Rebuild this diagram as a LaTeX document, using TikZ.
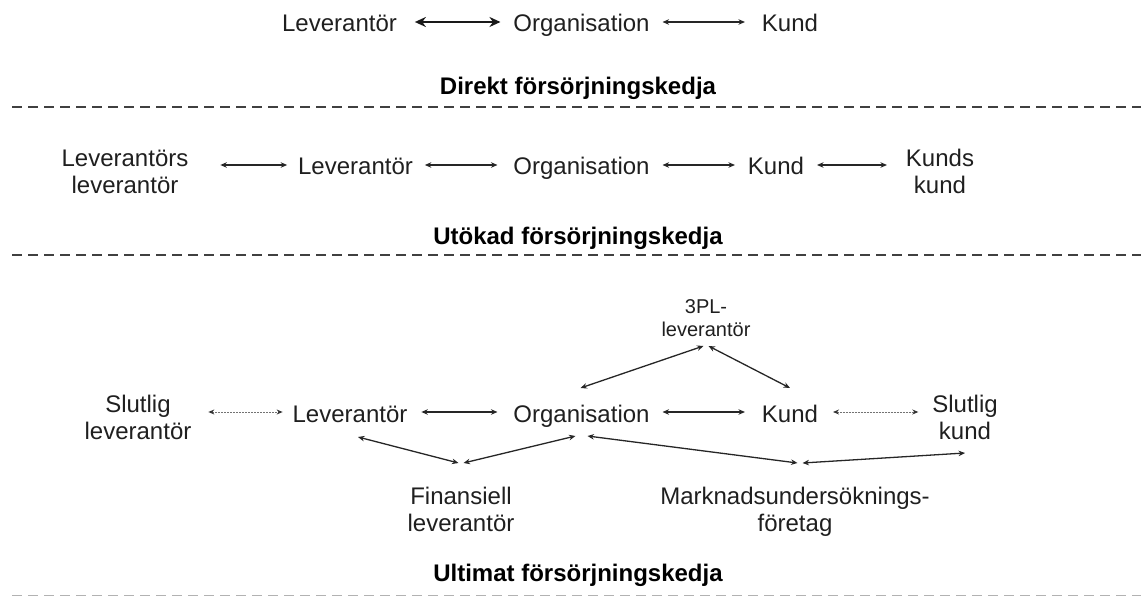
\documentclass[tikz,border=0pt]{standalone}
\usepackage{fontspec}
\setmainfont{Liberation Sans}
\usetikzlibrary{arrows.meta}

\begin{document}
\begin{tikzpicture}[x=1pt,y=-1pt,
  every node/.style={inner sep=0pt, outer sep=0pt},
  lbl/.style={font=\fontsize{24}{27}\selectfont, text=black!88, align=center},
  smalllbl/.style={font=\fontsize{20}{23}\selectfont, text=black!88, align=center},
  ttl/.style={font=\fontsize{24}{27}\selectfont\bfseries, text=black, anchor=base},
  link/.style={{Stealth[length=6.5pt,width=5.5pt]}-{Stealth[length=6.5pt,width=5.5pt]}, line width=1.3pt, draw=black!85},
  boldlink/.style={{Stealth[length=11pt,width=10pt]}-{Stealth[length=11pt,width=10pt]}, line width=2.6pt, draw=black!90},
  faintlink/.style={{Stealth[length=6pt,width=5pt,color=black!80]}-{Stealth[length=6pt,width=5pt,color=black!80]}, line width=1pt, draw=black!55, dash pattern=on 2pt off 1pt},
  divider/.style={line width=2.5pt, draw=black!75, dash pattern=on 10pt off 6pt}
]
\useasboundingbox (0,0) rectangle (1141,596);

% --- direct chain
\node[lbl, anchor=base] (lev1) at (339.5,32) {Leverantör};
\node[lbl, anchor=base] (org1) at (581.5,32) {Organisation};
\node[lbl, anchor=base] (kund1) at (790,32) {Kund};
\draw[boldlink] ([shift={(18,-10)}]lev1.base east) -- ([shift={(-13,-10)}]org1.base west);
\draw[link] ([shift={(13,-10)}]org1.base east) -- ([shift={(-17,-10)}]kund1.base west);
\node[ttl] (t1) at (578,95) {Direkt försörjningskedja};
\draw[divider] (12,107) -- (1141,107);

% --- extended chain
\node[lbl, anchor=north] (ll2) at (125,149.5) {Leverantörs\\leverantör};
\node[lbl, anchor=base] (lev2) at (355.5,175) {Leverantör};
\node[lbl, anchor=base] (org2) at (581.5,175) {Organisation};
\node[lbl, anchor=base] (kund2) at (776,175) {Kund};
\node[lbl, anchor=north] (kk2) at (940,149.5) {Kunds\\kund};
\draw[link] ([shift={(32,-10)}]ll2.east |- lev2.base) -- ([shift={(-11,-10)}]lev2.base west);
\draw[link] ([shift={(12,-10)}]lev2.base east) -- ([shift={(-16,-10)}]org2.base west);
\draw[link] ([shift={(13,-10)}]org2.base east) -- ([shift={(-13,-10)}]kund2.base west);
\draw[link] ([shift={(13,-10)}]kund2.base east) -- ([shift={(-19,-10)}]kk2.west |- kund2.base);
\node[ttl] (t2) at (578,245) {Utökad försörjningskedja};
\draw[divider] (12,255) -- (1141,255);

% --- ultimate chain
\node[lbl, anchor=north] (sl3) at (138,395) {Slutlig\\leverantör};
\node[lbl, anchor=base] (lev3) at (350,422) {Leverantör};
\node[lbl, anchor=base] (org3) at (581.5,422) {Organisation};
\node[lbl, anchor=base] (kund3) at (790,422) {Kund};
\node[lbl, anchor=north] (sk3) at (965,395) {Slutlig\\kund};
\node[smalllbl, anchor=north] (tpl) at (706,300) {3PL-\\leverantör};
\node[lbl, anchor=north] (fin) at (461,487.5) {Finansiell\\leverantör};
\node[lbl, anchor=north] (mkt) at (795,487.5) {Marknadsundersöknings-\\företag};
\coordinate (tplpt) at (706,346);
\coordinate (finpt) at (461,463);
\coordinate (mktpt) at (800,463);

\draw[faintlink] ([shift={(17,-10)}]sl3.east |- lev3.base) -- ([shift={(-10,-10)}]lev3.base west);
\draw[link] ([shift={(14,-10)}]lev3.base east) -- ([shift={(-16,-10)}]org3.base west);
\draw[link] ([shift={(13,-10)}]org3.base east) -- ([shift={(-17,-10)}]kund3.base west);
\draw[faintlink] ([shift={(15,-10)}]kund3.base east) -- ([shift={(-14,-10)}]sk3.west |- kund3.base);

\draw[link] ([shift={(-1,-34)}]org3.base) -- ([xshift=-2.5pt]tplpt);
\draw[link] ([xshift=2.5pt]tplpt) -- ([shift={(0,-34)}]kund3.base);

\draw[link] ([shift={(8,15)}]lev3.base) -- ([xshift=-2.5pt]finpt);
\draw[link] ([xshift=2.5pt]finpt) -- ([shift={(-6,14)}]org3.base);
\draw[link] ([shift={(6,14)}]org3.base) -- ([xshift=-2.5pt]mktpt);
\draw[link] ([xshift=2.5pt]mktpt) -- ([shift={(0,58)}]sk3.north);

\node[ttl] (t3) at (578,581) {Ultimat försörjningskedja};
\draw[divider, draw=black!30] (12,596) -- (1141,596);
\end{tikzpicture}
\end{document}
